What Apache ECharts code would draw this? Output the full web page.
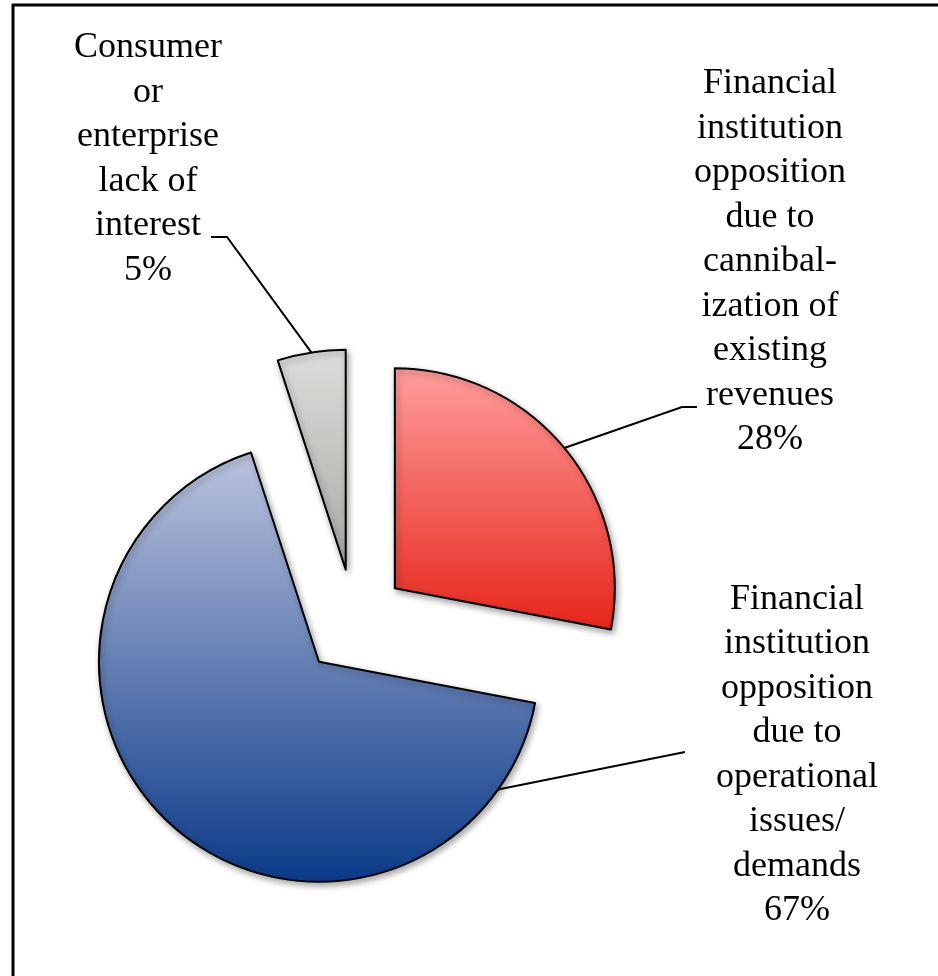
<!DOCTYPE html>
<html>
<head>
<meta charset="utf-8">
<style>
  html, body { margin: 0; padding: 0; background: #ffffff; }
  #chart { width: 938px; height: 976px; }
</style>
<script src="https://cdn.jsdelivr.net/npm/echarts@6/dist/echarts.min.js"></script>
</head>
<body>
<div id="chart"></div>
<script>
// Slice names (line breaks as printed) and their shares in percent
const categories = [
  'Financial\ninstitution\nopposition\ndue to\ncannibal-\nization of\nexisting\nrevenues',
  'Financial\ninstitution\nopposition\ndue to\noperational\nissues/\ndemands',
  'Consumer\nor\nenterprise\nlack of\ninterest'
];
const values = [28, 67, 5];

// Top and bottom colours of each slice's vertical gradient
const gradientTops = ['#ff9d9d', '#bcc3de', '#dddddb'];
const gradientBottoms = ['#e6261a', '#0b3a88', '#a8a9a5'];

// Pie geometry
const CENTER = [354, 622];
const RADIUS = 220;
const EXPLODE = 53;

// Label block centres and leader-line elbows
const labelCenters = [[770, 262], [797, 755], [148, 159]];
const leaderElbows = [[[682, 407], [697, 407]], [[685, 752]], [[227, 237], [211, 237]]];
// Angle (degrees clockwise from 12 o'clock) where each leader touches its slice arc
const leaderArcAngles = [50.4, 125.5, 351];

const LABEL_FONT = '36px "Liberation Serif", "DejaVu Serif", serif';
const LABEL_LINE_HEIGHT = 44.5;

const total = values.reduce((a, b) => a + b, 0);

function dir(deg) {
  const a = deg * Math.PI / 180;
  return [Math.sin(a), -Math.cos(a)];
}

// Point on the arc of an exploded slice
function arcPoint(idx, angleDeg) {
  let start = 0;
  for (let i = 0; i < idx; i++) start += values[i] / total * 360;
  const mid = start + values[idx] / total * 360 / 2;
  const m = dir(mid);
  const d = dir(angleDeg);
  return [
    CENTER[0] + EXPLODE * m[0] + RADIUS * d[0],
    CENTER[1] + EXPLODE * m[1] + RADIUS * d[1]
  ];
}

const chart = echarts.init(document.getElementById('chart'), null, { renderer: 'canvas' });

const pieData = categories.map((name, i) => ({
  name: name,
  value: values[i],
  selected: true,
  itemStyle: {
    color: {
      type: 'linear', x: 0, y: 0, x2: 0, y2: 1,
      colorStops: [
        { offset: 0, color: gradientTops[i] },
        { offset: 1, color: gradientBottoms[i] }
      ]
    }
  }
}));

// Data labels and their leader lines
const labelGraphics = [];
categories.forEach((name, i) => {
  const pts = [arcPoint(i, leaderArcAngles[i])].concat(leaderElbows[i]);
  labelGraphics.push({
    type: 'polyline',
    z: 10,
    shape: { points: pts },
    style: { stroke: '#000000', lineWidth: 2, fill: null }
  });
  labelGraphics.push({
    type: 'text',
    z: 10,
    x: labelCenters[i][0],
    y: labelCenters[i][1],
    style: {
      text: name + '\n' + values[i] + '%',
      font: LABEL_FONT,
      lineHeight: LABEL_LINE_HEIGHT,
      fill: '#000000',
      align: 'center',
      verticalAlign: 'middle'
    }
  });
});

chart.setOption({
  animation: false,
  backgroundColor: '#ffffff',
  graphic: [
    { type: 'line', shape: { x1: 12, y1: 5, x2: 938, y2: 5 }, style: { stroke: '#000', lineWidth: 3 } },
    { type: 'line', shape: { x1: 13, y1: 4, x2: 13, y2: 976 }, style: { stroke: '#000', lineWidth: 3 } }
  ].concat(labelGraphics),
  series: [{
    type: 'pie',
    center: CENTER,
    radius: RADIUS,
    startAngle: 90,
    clockwise: true,
    selectedMode: 'multiple',
    selectedOffset: EXPLODE,
    avoidLabelOverlap: false,
    emphasis: { disabled: true },
    itemStyle: {
      borderColor: '#000000',
      borderWidth: 2,
      shadowBlur: 6,
      shadowOffsetX: 2,
      shadowOffsetY: 3,
      shadowColor: 'rgba(0,0,0,0.35)'
    },
    label: { show: false },
    labelLine: { show: false },
    data: pieData
  }]
});
</script>
</body>
</html>
